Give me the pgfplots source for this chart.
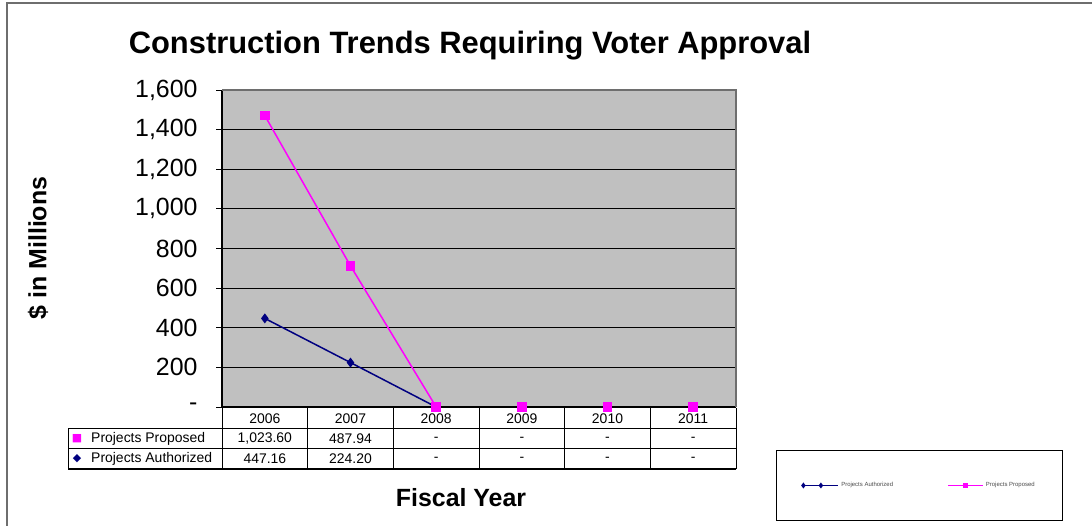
\documentclass[border=0pt]{standalone}
\usepackage{pgfplots}
\pgfplotsset{compat=1.18}
\usepackage{pgfplotstable}
\usepackage{fontspec}
\setmainfont{Liberation Sans}
\newfontfamily\dejavu{DejaVu Sans}
\newcommand{\fs}[1]{\fontsize{#1}{#1}\selectfont}
\definecolor{plotgray}{RGB}{192,192,192}
\definecolor{navyc}{RGB}{0,0,128}
\definecolor{magc}{RGB}{255,0,255}
\definecolor{framegray}{RGB}{110,110,110}

\pgfplotstableread{
x year auth prop
0 2006 447.16 1023.60
1 2007 224.20 487.94
2 2008 0 0
3 2009 0 0
4 2010 0 0
5 2011 0 0
}\datatable

\begin{document}
\begin{tikzpicture}
\path[use as bounding box] (0bp,0bp) rectangle (1092bp,526bp);
\draw[framegray, line width=1.5bp] (7bp,0bp) -- (7bp,523bp) -- (1092bp,523bp);

\begin{axis}[
  at={(222bp,119bp)}, anchor=south west,
  scale only axis, width=514bp, height=317bp,
  xmin=-0.5, xmax=5.5, ymin=0, ymax=1600,
  xtick=data,
  xticklabels={2006,2007,2008,2009,2010,2011},
  xticklabel style={font=\fs{14}, yshift=3bp},
  x tick style={draw=none},
  ytick pos=left,
  ytick={0,200,400,600,800,1000,1200,1400,1600},
  yticklabels={-,200,400,600,800,{1,000},{1,200},{1,400},{1,600}},
  yticklabel style={font=\fs{25}, xshift=-15bp},
  /pgf/number format/assume math mode=true,
  tick align=outside,
  y tick style={black, line width=0.8bp},
  major tick length=6bp,
  ymajorgrids,
  grid style={black, line width=0.9bp},
  axis background/.style={fill=plotgray},
  axis line style={draw=none},
  clip=false,
  stack plots=y,
  legend columns=2,
  legend style={at={(1.3570,-0.2476)}, anchor=center, draw=black, line width=1bp,
    font=\fs{6}, text=black!70, inner xsep=26bp, inner ysep=30bp,
    /tikz/every even column/.append style={column sep=52bp}},
  legend image code/.code={\draw[mark repeat=2,mark phase=2,mark size=1.5bp,line width=1.8bp,#1] plot coordinates {(0bp,0bp) (17.5bp,0bp) (35bp,0bp)};},
]
\draw[framegray, line width=1.5bp] (rel axis cs:0,1) -- (rel axis cs:1,1) -- (rel axis cs:1,0);
\draw[black, line width=1.2bp] (rel axis cs:0,1) -- (rel axis cs:0,0) -- (rel axis cs:1,0);
\addplot[color=navyc, line width=1.5bp, mark=diamond*, mark size=3.8bp, mark indices={1,2}] table[x=x,y=auth] {\datatable};
\addlegendentry{Projects Authorized}
\addplot[color=magc, line width=1.5bp, mark=square*, mark size=4bp] table[x=x,y=prop] {\datatable};
\addlegendentry{Projects Proposed}
\end{axis}

% data table
\foreach \k in {0,...,6} {
  \pgfmathsetmacro\xx{222+\k*514/6}
  \draw[black, line width=1bp] (\xx bp,118bp) -- (\xx bp,57bp);
}
\draw[black, line width=1bp] (68bp,97bp) -- (736bp,97bp);
\draw[black, line width=1bp] (68bp,77bp) -- (736bp,77bp);
\draw[black, line width=1.2bp] (68bp,57bp) -- (736bp,57bp);
\draw[black, line width=1bp] (68bp,97bp) -- (68bp,57bp);

\node[anchor=west, font=\fs{14}, inner sep=0pt] at (91bp,87bp) {Projects Proposed};
\node[anchor=west, font=\fs{14}, inner sep=0pt] at (91bp,67bp) {Projects Authorized};
\node[font=\dejavu\fs{11}, text=magc, inner sep=0pt] at (77bp,87bp) {■};
\node[font=\dejavu\fs{11}, text=navyc, inner sep=0pt] at (77bp,67bp) {◆};

\node[font=\fs{14}] at (264.83bp,87bp) {1,023.60};
\node[font=\fs{14}] at (350.5bp,87bp) {487.94};
\node[font=\fs{14}] at (264.83bp,67bp) {447.16};
\node[font=\fs{14}] at (350.5bp,67bp) {224.20};
\foreach \c in {436.17,521.83,607.5,693.17} {
  \node[font=\fs{14}] at (\c bp,87bp) {-};
  \node[font=\fs{14}] at (\c bp,67bp) {-};
}

\node[font=\bfseries\fs{31}] at (470bp,480bp) {Construction Trends Requiring Voter Approval};
\node[font=\bfseries\fs{25}, rotate=90] at (38bp,278bp) {\$ in Millions};
\node[font=\bfseries\fs{25}] at (461bp,28bp) {Fiscal Year};
\end{tikzpicture}
\end{document}
